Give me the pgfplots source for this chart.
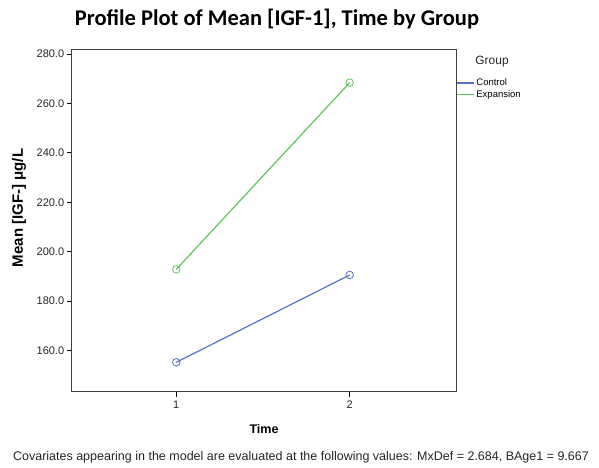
\documentclass[border=0pt]{standalone}
\usepackage{pgfplots}
\pgfplotsset{compat=1.18}
\usepackage{fontspec}
\setmainfont{Liberation Sans}
\newfontfamily\titlefont{Carlito}
\definecolor{ctrl}{RGB}{88,112,200}
\definecolor{expn}{RGB}{92,200,92}
\begin{document}
\begin{tikzpicture}[x=1pt,y=1pt]
\path (0,0) rectangle (599,467);
\begin{axis}[
  at={(71.7pt,75.3pt)}, anchor=south west,
  scale only axis, width=384.3pt, height=342.7pt,
  xmin=0.397, xmax=2.613, ymin=143.4, ymax=282,
  xtick={1,2}, ytick={160,180,...,280},
  yticklabel={\pgfmathprintnumber[fixed,fixed zerofill,precision=1]{\tick}},
  /pgf/number format/assume math mode=true,
  tick align=outside, tick pos=left,
  major tick length=5pt,
  tick style={black, line width=0.8pt},
  axis line style={black!75, line width=0.9pt},
  ticklabel style={font=\fontsize{11}{13}\selectfont, text=black!85},
  yticklabel style={xshift=1pt},
  xticklabel style={yshift=-1pt},
  clip=false,
  legend style={at={(1,0.925)}, anchor=north west, draw=none, fill=none,
    font=\fontsize{9.5}{11}\selectfont, row sep=-1pt, inner xsep=0pt},
  legend cell align=left,
  legend image code/.code={\draw[#1] (0pt,0pt) -- (17pt,0pt);},
]
\addplot[forget plot, color=ctrl, line width=1.2pt, mark=o, mark size=3.8pt, mark options={line width=0.8pt}]
  coordinates {(1,155.3) (2,190.6)};
\addplot[forget plot, color=expn, line width=1.2pt, mark=o, mark size=3.8pt, mark options={line width=0.8pt}]
  coordinates {(1,192.9) (2,268.4)};
\addlegendimage{draw=ctrl, line width=1.2pt}
\addlegendentry{Control}
\addlegendimage{draw=expn, line width=1.2pt}
\addlegendentry{Expansion}
\end{axis}
\node[font=\titlefont\bfseries\fontsize{22.5}{26}\selectfont, anchor=center] at (277,448) {Profile Plot of Mean [IGF-1], Time by Group};
\node[font=\bfseries\fontsize{15}{18}\selectfont, rotate=90, anchor=center] at (19,259) {Mean [IGF-] μg/L};
\node[font=\bfseries\fontsize{12.5}{15}\selectfont, anchor=center] at (264,38) {Time};
\node[font=\fontsize{12}{14}\selectfont, anchor=center, text=black!85] at (492,405) {Group};
\node[font=\fontsize{12.5}{14}\selectfont, anchor=center, text=black!85] at (301,10) {Covariates appearing in the model are evaluated at the following values: MxDef = 2.684, BAge1 = 9.667};
\end{tikzpicture}
\end{document}
